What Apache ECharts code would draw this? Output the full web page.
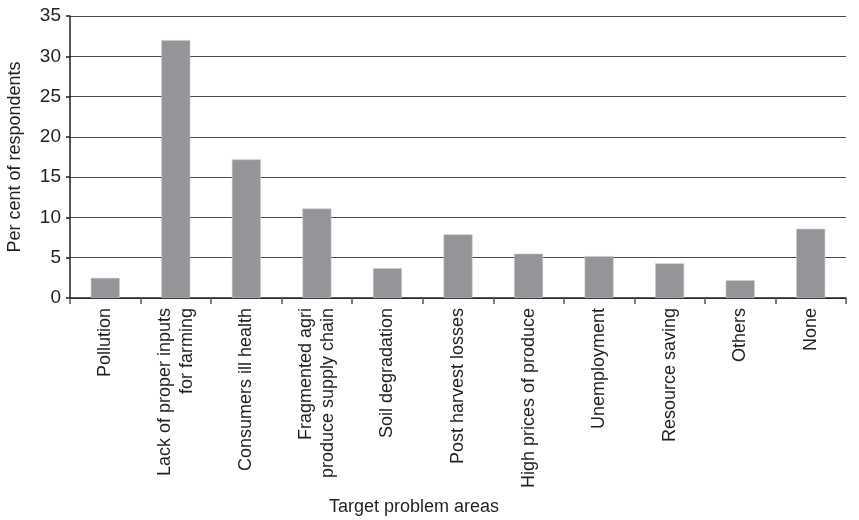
<!DOCTYPE html>
<html>
<head>
<meta charset="utf-8">
<script src="https://cdn.jsdelivr.net/npm/echarts@6/dist/echarts.min.js"></script>
<style>html,body{margin:0;padding:0;background:#fff}#c{width:859px;height:520px}</style>
</head>
<body>
<div id="c"></div>
<script>
const categories = [
  "Pollution",
  "Lack of proper inputs\nfor farming",
  "Consumers ill health",
  "Fragmented agri\nproduce supply chain",
  "Soil degradation",
  "Post harvest losses",
  "High prices of produce",
  "Unemployment",
  "Resource saving",
  "Others",
  "None"
];
const values = [2.5, 32.0, 17.2, 11.1, 3.7, 7.9, 5.5, 5.2, 4.3, 2.2, 8.6];
const yTicks = [0, 5, 10, 15, 20, 25, 30, 35];

const font = "'Liberation Sans', Arial, sans-serif";
const chart = echarts.init(document.getElementById('c'), null, {renderer: 'canvas'});
chart.setOption({
  animation: false,
  backgroundColor: '#ffffff',
  grid: {left: 70, right: 13, top: 16, bottom: 222, containLabel: false, outerBoundsMode: 'none'},
  xAxis: {
    type: 'category',
    data: categories,
    name: 'Target problem areas',
    nameLocation: 'middle',
    nameGap: 200,
    nameTextStyle: {fontFamily: font, fontSize: 18, color: '#231f20', padding: [0, 88, 0, 0]},
    axisLine: {lineStyle: {color: '#231f20', width: 1.5}},
    axisTick: {show: true, alignWithLabel: false, length: 6, lineStyle: {color: '#555', width: 1.5}},
    axisLabel: {
      rotate: 90, interval: 0, margin: 10,
      fontFamily: font, fontSize: 18, color: '#231f20', lineHeight: 22
    },
    splitLine: {show: false}
  },
  yAxis: {
    type: 'value',
    min: 0, max: 35, interval: 5,
    name: 'Per cent of respondents',
    nameLocation: 'middle',
    nameGap: 46,
    nameTextStyle: {fontFamily: font, fontSize: 18, color: '#231f20'},
    axisLine: {show: true, lineStyle: {color: '#231f20', width: 1.5}},
    axisTick: {show: true, length: 4, lineStyle: {color: '#231f20', width: 1.5}},
    axisLabel: {
      margin: 9, fontFamily: font, fontSize: 19, color: '#231f20',
      formatter: v => yTicks.includes(v) ? String(v) : ''
    },
    splitLine: {show: true, lineStyle: {color: '#4a4a4a', width: 1}}
  },
  series: [{
    type: 'bar',
    data: values,
    barWidth: 29,
    itemStyle: {color: '#949599', borderColor: '#c8c9cb', borderWidth: 0.6}
  }]
});
</script>
</body>
</html>
